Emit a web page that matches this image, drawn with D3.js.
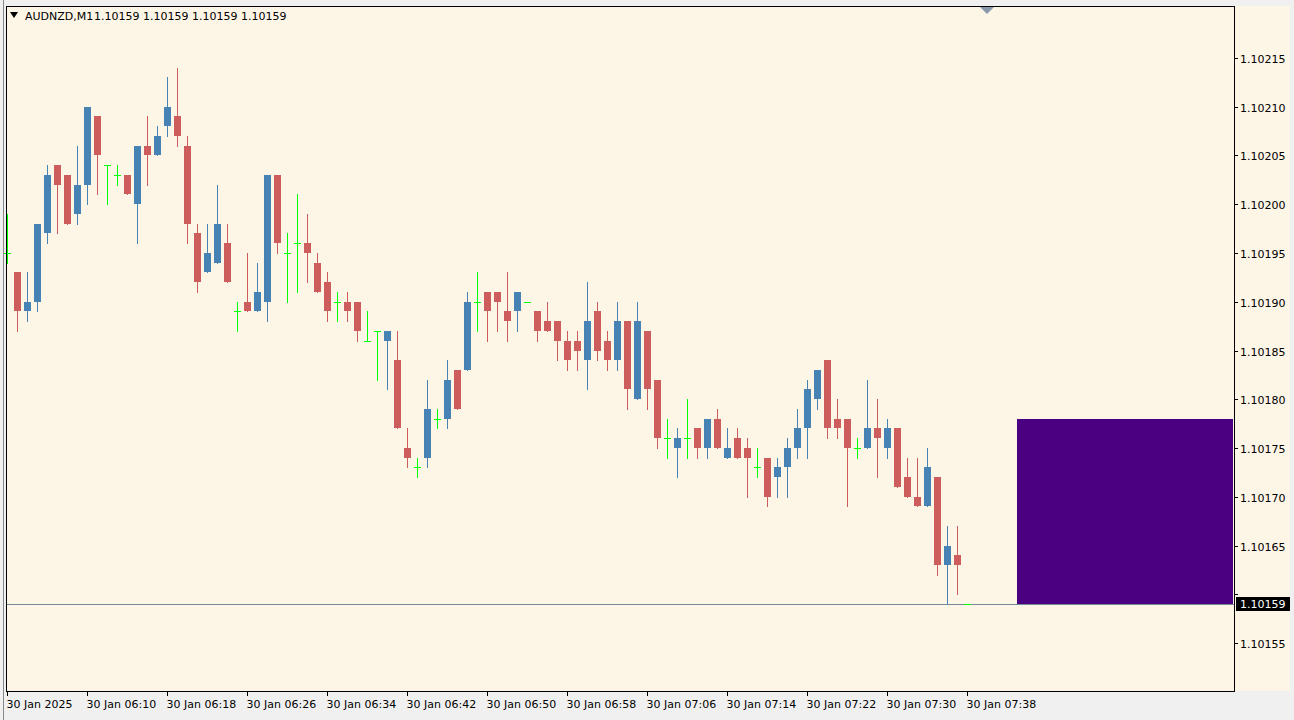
<!DOCTYPE html>
<html><head><meta charset="utf-8">
<script src="https://cdn.jsdelivr.net/npm/d3@7"></script>
<style>body{margin:0;background:#fff;overflow:hidden}svg{display:block}text{font-family:Tahoma,"DejaVu Sans",sans-serif;font-size:11px}</style>
</head><body>
<svg id="c" width="1294" height="720"></svg>
<script>
// prices in points above 1.10000 (e.g. 195 => 1.10195)
const opens  = [195,193,189,190,197,204,203,199,202,209,204,203,203,200,206,205,208,209,206,197,193,194,196,189,190,189,190,203,195,196,196,194,192,190,190,190,186,187,186,184,175,173,174,178,178,183,183,190,191,191,189,189,190,189,188,188,186,186,184,189,186,184,188,180,187,182,176,175,176,177,175,178,174,176,175,173,174,172,173,175,177,180,184,178,178,175,175,177,175,177,172,170,169,172,163,164,159];
const highs  = [199,193,193,198,204,204,203,206,210,209,204,204,203,206,209,208,213,214,207,198,198,202,198,190,195,194,203,203,197,201,199,195,193,191,191,190,189,187,187,187,177,174,182,179,184,183,191,193,191,191,193,191,190,189,190,188,187,187,192,190,187,190,188,190,187,182,178,177,180,177,178,179,177,177,176,175,174,174,176,179,182,183,184,180,178,176,182,180,178,177,174,174,175,172,167,167,159];
const lows   = [194,187,188,189,196,197,198,198,200,201,200,202,201,196,202,205,207,206,196,191,193,194,192,187,189,189,188,195,190,191,192,191,188,188,188,186,186,182,181,177,173,172,173,177,177,179,183,187,186,187,186,187,190,186,187,184,183,183,181,184,183,183,179,180,179,175,174,172,174,174,174,175,174,174,170,172,169,170,170,174,174,179,176,176,169,174,175,172,174,171,170,169,169,162,159,160,159];
const closes = [195,189,190,198,203,202,198,202,210,205,204,203,201,206,205,207,210,207,198,192,195,198,192,189,189,191,203,196,195,196,195,191,189,190,189,187,186,187,187,177,174,173,179,178,182,179,190,190,189,190,188,191,190,187,187,186,184,185,188,185,184,188,181,188,181,176,176,176,176,175,178,175,175,174,174,173,170,173,175,177,181,183,177,177,175,175,177,176,177,171,170,169,173,163,165,163,159];
const timeLabels = ["30 Jan 2025","30 Jan 06:10","30 Jan 06:18","30 Jan 06:26","30 Jan 06:34","30 Jan 06:42","30 Jan 06:50","30 Jan 06:58","30 Jan 07:06","30 Jan 07:14","30 Jan 07:22","30 Jan 07:30","30 Jan 07:38"];
const priceTicks = [1.10155,1.10160,1.10165,1.10170,1.10175,1.10180,1.10185,1.10190,1.10195,1.10200,1.10205,1.10210,1.10215];
const bid = 1.10159;
const zoneTop = 1.10178, zoneBottom = 1.10159;

const P = v => 1.1 + v/100000;
const svg = d3.select("#c");
const L=6, R=1234, T=6, B=691;
svg.append("rect").attr("width",1294).attr("height",720).attr("fill","#f0f0f0");
svg.append("rect").attr("x",L).attr("y",T).attr("width",1290-L).attr("height",B-T).attr("fill","#FDF5E6");
const y = d3.scaleLinear().domain([1.10155,1.10215]).range([643,58]);
const x = d3.scaleLinear().domain([0,1]).range([7,17]);
const n = opens.length;
const data = d3.range(n).map(i=>({i,o:P(opens[i]),h:P(highs[i]),l:P(lows[i]),c:P(closes[i])}));
const ry = v => Math.round(y(v));

svg.append("rect").attr("x",x(101)).attr("width",R-1-x(101)).attr("y",ry(zoneTop)).attr("height",ry(zoneBottom)-ry(zoneTop)).attr("fill","#4B0082");
svg.append("line").attr("x1",L).attr("x2",R).attr("y1",ry(bid)+0.5).attr("y2",ry(bid)+0.5).attr("stroke","#778899");

const col = d => d.c>d.o?"#4682B4":(d.c<d.o?"#CD5C5C":"#00FF00");
const g = svg.append("g").attr("shape-rendering","crispEdges");
g.selectAll("line.w").data(data).join("line").attr("x1",d=>x(d.i)+0.5).attr("x2",d=>x(d.i)+0.5)
 .attr("y1",d=>ry(d.h)).attr("y2",d=>ry(d.l)+1).attr("stroke",col).attr("stroke-width",1);
g.selectAll("rect.b").data(data.filter(d=>d.o!==d.c)).join("rect")
 .attr("x",d=>x(d.i)-3).attr("width",7)
 .attr("y",d=>ry(Math.max(d.o,d.c))).attr("height",d=>Math.max(1,ry(Math.min(d.o,d.c))-ry(Math.max(d.o,d.c))))
 .attr("fill",col);
g.selectAll("line.d").data(data.filter(d=>d.o===d.c)).join("line")
 .attr("x1",d=>x(d.i)-3).attr("x2",d=>x(d.i)+4).attr("y1",d=>ry(d.c)+0.5).attr("y2",d=>ry(d.c)+0.5).attr("stroke","#00FF00");

svg.append("rect").attr("x",L+0.5).attr("y",T+0.5).attr("width",R-L).attr("height",B-T).attr("fill","none").attr("stroke","#000");
svg.append("line").attr("x1",3.5).attr("x2",3.5).attr("y1",0).attr("y2",720).attr("stroke","#888");
svg.append("path").attr("d",`M${x(98)-7},${T+1} L${x(98)+7},${T+1} L${x(98)},${T+8} Z`).attr("fill","#8899aa");

const ya = svg.append("g");
priceTicks.forEach(p=>{
  const yy=ry(p)+0.5;
  ya.append("line").attr("x1",R).attr("x2",R+4).attr("y1",yy).attr("y2",yy).attr("stroke","#000");
  if (Math.abs(yy-ry(bid))>12) ya.append("text").attr("x",1240).attr("y",yy+4).text(p.toFixed(5));
});
const by = ry(bid);
svg.append("rect").attr("x",R+2).attr("y",by-7).attr("width",54).attr("height",14).attr("fill","#000");
svg.append("text").attr("x",1240).attr("y",by+4).attr("fill","#fff").text(bid.toFixed(5));

timeLabels.forEach((t,k)=>{
  const xx = x(k*8)+0.5;
  svg.append("line").attr("x1",xx).attr("x2",xx).attr("y1",B).attr("y2",B+5).attr("stroke","#000");
  svg.append("text").attr("x",xx-1).attr("y",708).text(t);
});

svg.append("path").attr("d","M10,12 L18,12 L14,18 Z").attr("fill","#000");
svg.append("text").attr("x",25).attr("y",20).text("AUDNZD,M1");
svg.append("text").attr("x",94).attr("y",20).text("1.10159 1.10159 1.10159 1.10159");
</script>
</body></html>
